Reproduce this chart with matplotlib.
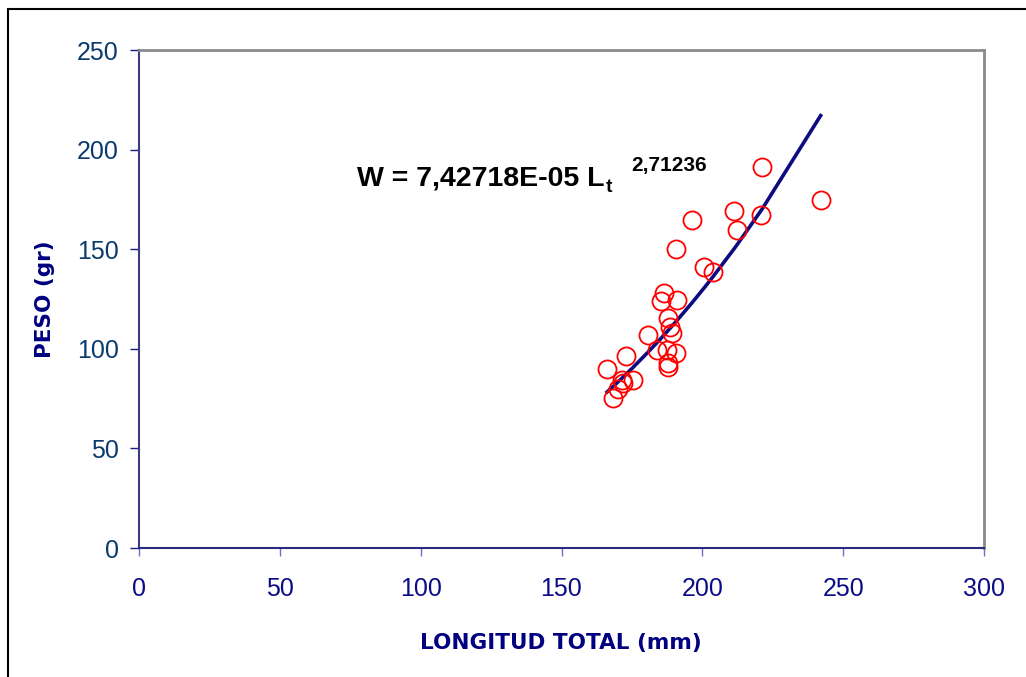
import numpy as np
import matplotlib
matplotlib.use("Agg")
import matplotlib.pyplot as plt
from matplotlib.patches import Rectangle

# Data
longitud = [166.2, 168.4, 170.2, 171.4, 171.9, 172.8, 175.5, 180.8, 183.8, 185.5,
            186.4, 187.3, 187.9, 187.9, 187.9, 188.5, 189.1, 190.6, 190.9, 190.6,
            196.2, 200.7, 203.7, 211.3, 212.2, 220.8, 221.3, 242.0]
peso = [89.9, 75.2, 79.7, 84.3, 82.7, 96.5, 84.3, 106.9, 99.4, 124.2,
        127.9, 99.4, 115.3, 92.7, 91.0, 111.1, 107.8, 98.0, 124.5, 150.0,
        164.7, 141.2, 138.7, 169.3, 159.6, 167.2, 191.1, 174.7]
coef_a = 7.42718e-05
coef_b = 2.71236
x_ticks = [0, 50, 100, 150, 200, 250, 300]
y_ticks = [0, 50, 100, 150, 200, 250]

W, H = 1026, 677
fig = plt.figure(figsize=(W / 100, H / 100), dpi=100)
fig.patch.set_facecolor("white")

# outer frame (top and left edges visible)
fig.patches.append(Rectangle((8 / W, -0.1), 1.2, (H - 9) / H + 0.1, transform=fig.transFigure,
                             fill=False, edgecolor="black", linewidth=1.5))

ax = fig.add_axes([139 / W, 1 - 548 / H, (984 - 139) / W, (548 - 50) / H])
ax.set_xlim(0, 300)
ax.set_ylim(0, 250)

# fitted curve evaluated at sorted data lengths
xs = np.sort(np.array(longitud))
ys = coef_a * xs ** coef_b
ax.plot(xs, ys, color="#0c0c80", linewidth=2.6, zorder=3)

ax.plot(longitud, peso, linestyle="none", marker="o", markersize=13,
        markerfacecolor="none", markeredgecolor="#ff0000", markeredgewidth=1.3, zorder=4)

ax.set_xticks(x_ticks)
ax.set_yticks(y_ticks)
ax.tick_params(axis="y", direction="out", length=6.5, width=1.0, color="#1a1a80",
               labelsize=18, labelcolor="#0b3a6e", pad=8)
ax.tick_params(axis="x", direction="out", length=6, width=1.0, color="#6f6fc8",
               labelsize=18, labelcolor="#0c0c88", pad=15)
for lab in ax.get_xticklabels() + ax.get_yticklabels():
    lab.set_family(["Liberation Sans", "DejaVu Sans"])

ax.spines["left"].set_color("#3a3a88")
ax.spines["left"].set_linewidth(1.5)
ax.spines["bottom"].set_color("#2a2a80")
ax.spines["bottom"].set_linewidth(1.5)
ax.spines["top"].set_color("#8a8a8a")
ax.spines["top"].set_linewidth(2)
ax.spines["right"].set_color("#8a8a8a")
ax.spines["right"].set_linewidth(2)

fig.text(561 / W, 1 - 643 / H, "LONGITUD TOTAL (mm)", ha="center", va="center",
         fontsize=15.5, fontweight="bold", color="#000080", family="DejaVu Sans")
fig.text(45 / W, 1 - 299 / H, "PESO (gr)", ha="center", va="center", rotation=90,
         fontsize=15.5, fontweight="bold", color="#000080", family="DejaVu Sans")

# equation text
fam = ["Liberation Sans", "DejaVu Sans"]
base = 186
t1 = fig.text(357 / W, 1 - base / H, "W = 7,42718E-05 L", ha="left", va="baseline",
              fontsize=20.5, fontweight="bold", color="black", family=fam)
fig.canvas.draw()
r = fig.canvas.get_renderer()
bb = t1.get_window_extent(r)
x_end = bb.x1
fig.text((x_end + 1) / W, (H - base - 6) / H, "t", ha="left", va="baseline",
         fontsize=14, fontweight="bold", color="black", family=fam)
fig.text((x_end + 27) / W, (H - base + 15) / H, "2,71236", ha="left", va="baseline",
         fontsize=15, fontweight="bold", color="black", family=fam)

fig.savefig("out.png", dpi=100, facecolor="white")
